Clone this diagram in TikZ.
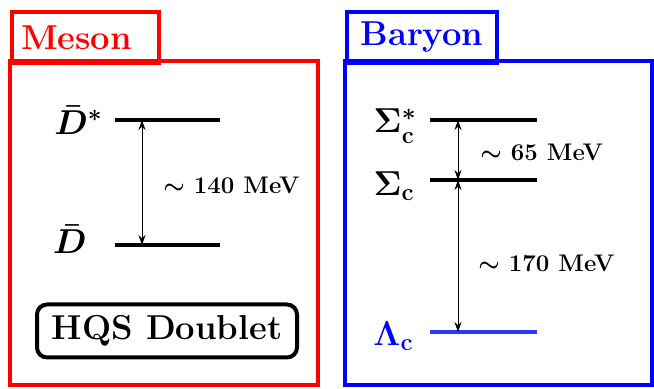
\documentclass[tikz,border=0pt]{standalone}
\usepackage{amsmath,amssymb}
\usetikzlibrary{arrows.meta,positioning}
\definecolor{mesred}{RGB}{255,0,0}
\definecolor{barblue}{RGB}{0,0,255}
\definecolor{lamblue}{RGB}{40,60,245}

\begin{document}
\begin{tikzpicture}[x=.5pt,y=-.5pt,
        panel/.style={line width=2pt},
        tab/.style={draw,line width=2pt,anchor=north west,inner sep=0pt,
          minimum height=25.5pt,font=\LARGE\bfseries},
        level/.style={line width=1.6pt},
        gap/.style={{Stealth[length=5pt,width=3.5pt]}-{Stealth[length=5pt,width=3.5pt]},
          line width=.4pt},
        state/.style={inner sep=0pt,font=\LARGE\boldmath},
        split/.style={anchor=west,inner sep=0pt,font=\large\bfseries}]
        \useasboundingbox (0,0) rectangle (654,389);

        % Meson panel with its tab.
        \draw[panel,mesred] (10,61) rectangle (318,385);
        \node[tab,mesred,minimum width=73.5pt,text width=64.5pt,
          inner xsep=4.5pt,align=left] (mestab) at (10,10) {Meson};

        % D-bar doublet.
        \coordinate (dstarL) at (115,120);
        \coordinate (dstarR) at (220,120);
        \coordinate (dL) at (115,245);
        \coordinate (dR) at (220,245);
        \draw[level] (dstarL)--(dstarR);
        \draw[level] (dL)--(dR);
        \node[state,left=6pt of dstarL] (dstar) {$\bar D^{\ast}$};
        \node[state,left=14pt of dL,yshift=3pt] (dbar) {$\bar D$};
        \coordinate (mtop) at (142,120);
        \coordinate (mbot) at (142,245);
        \draw[gap] (mtop)--(mbot);
        \node[split] (mgap) at (163,185) {{\boldmath$\sim$} 140 MeV};
        \node[draw,line width=2pt,rounded corners=5pt,minimum width=130pt,
          minimum height=26.5pt,font=\LARGE\bfseries] (hqs) at (167,331)
          {HQS Doublet};

        % Baryon panel with its tab.
        \draw[panel,barblue] (345,61) rectangle (652,385);
        \node[tab,barblue,minimum width=75pt] (bartab) at (345,10) {Baryon};

        % Charmed baryon levels.
        \coordinate (sstarL) at (430,120);
        \coordinate (sstarR) at (537,120);
        \coordinate (sigL) at (430,180);
        \coordinate (sigR) at (537,180);
        \coordinate (lamL) at (430,332);
        \coordinate (lamR) at (537,332);
        \draw[level] (sstarL)--(sstarR);
        \draw[level] (sigL)--(sigR);
        \draw[level,lamblue] (lamL)--(lamR);
        \node[state,left=6.5pt of sstarL,yshift=-3pt] (sstar)
          {$\mathbf{\Sigma_c^{\ast}}$};
        \node[state,left=7.5pt of sigL,yshift=-3pt] (sig) {$\mathbf{\Sigma_c}$};
        \node[state,left=8pt of lamL,yshift=-2pt,barblue] (lam)
          {$\mathbf{\Lambda_c}$};
        \coordinate (btop) at (458,120);
        \coordinate (bmid) at (458,180);
        \coordinate (bbot) at (458,332);
        \draw[gap] (btop)--(bmid);
        \draw[gap] (bmid)--(bbot);
        \node[split] (sgap) at (480,152) {{\boldmath$\sim$} 65 MeV};
        \node[split] (lgap) at (478,263) {{\boldmath$\sim$} 170 MeV};
      \end{tikzpicture}
\end{document}
